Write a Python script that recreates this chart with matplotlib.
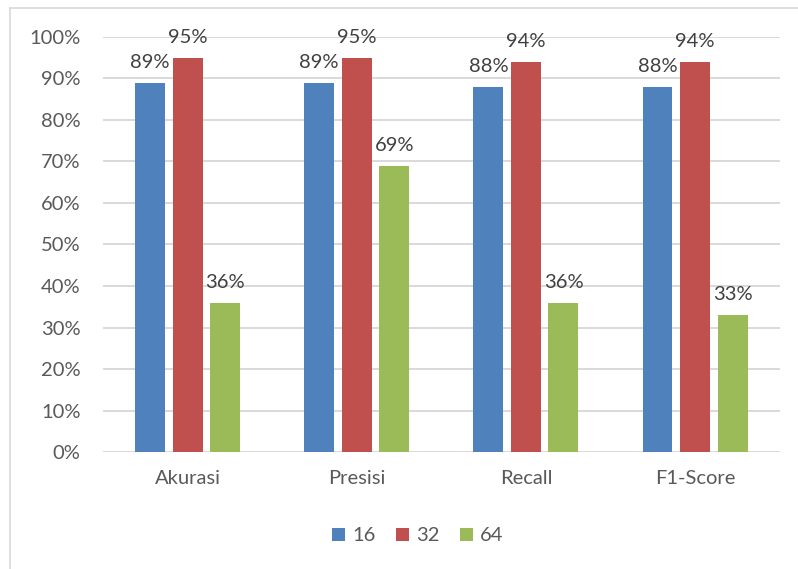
import numpy as np
import matplotlib.pyplot as plt

categories = ["Akurasi", "Presisi", "Recall", "F1-Score"]
series_names = ["16", "32", "64"]
vals_16 = [89, 89, 88, 88]
vals_32 = [95, 95, 94, 94]
vals_64 = [36, 69, 36, 33]

COLORS = ["#4F81BD", "#C0504D", "#9BBB59"]

plt.rcParams["font.family"] = ["Lato", "DejaVu Sans"]

fig = plt.figure(figsize=(7.98, 5.69), dpi=100)
ax = fig.add_axes([0.129, 0.2056, 0.848, 0.7294])

x = np.arange(len(categories))
width = 0.177
step = 0.222
series = [vals_16, vals_32, vals_64]
for i, (vals, name) in enumerate(zip(series, series_names)):
    pos = x + (i - 1) * step
    ax.bar(pos, [v / 100 for v in vals], width, color=COLORS[i],
           label=name, zorder=3)
    for xp, v in zip(pos, vals):
        ax.text(xp, v / 100 + 0.028, f"{v}%", ha="center", va="bottom",
                fontsize=14.5, color="#404040", clip_on=False)

ax.set_xlim(-0.5, len(categories) - 0.5)
ax.set_ylim(0, 1.0)
ticks = np.arange(0, 1.01, 0.1)
ax.set_yticks(ticks)
ax.set_yticklabels([f"{int(round(t * 100))}%" for t in ticks])
ax.set_xticks(x)
ax.set_xticklabels(categories)
ax.tick_params(axis="both", length=0, labelsize=14.5, colors="#595959")
ax.tick_params(axis="y", pad=16)
ax.tick_params(axis="x", pad=13)
ax.grid(True, axis="y", color="#D9D9D9", linewidth=1.4, zorder=0)
for s in ax.spines.values():
    s.set_visible(False)

ax.legend(loc="center", bbox_to_anchor=(0.465, -0.202), ncol=3, frameon=False,
          fontsize=14.5, handlelength=0.65, handleheight=0.65,
          handletextpad=0.35, columnspacing=1.0, labelcolor="#595959")

# outer chart frame (top and left edges)
fig.add_artist(plt.Line2D([10 / 798, 1.0], [1 - 8 / 569, 1 - 8 / 569],
                          color="#D9D9D9", linewidth=1.2))
fig.add_artist(plt.Line2D([10 / 798, 10 / 798], [0, 1 - 8 / 569],
                          color="#D9D9D9", linewidth=1.2))

fig.savefig("out.png", dpi=100)
